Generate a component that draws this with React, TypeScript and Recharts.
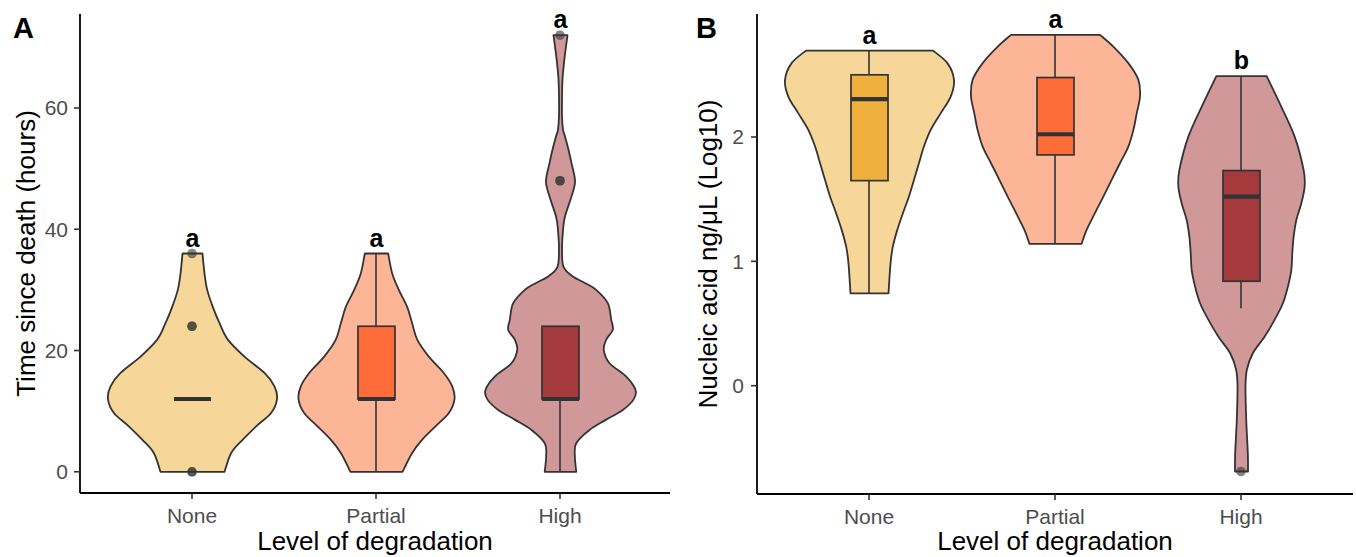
import React from 'react';
import { ComposedChart, Bar, Scatter, XAxis, YAxis, LabelList, Label } from 'recharts';

const FONT = '"Liberation Sans", Arial, sans-serif';

const categories = ['None', 'Partial', 'High'];

const timeTicks = [0, 20, 40, 60];
const acidTicks = [0, 1, 2];

const timeLetters = ['a', 'a', 'a'];
const acidLetters = ['a', 'a', 'b'];

// [lower whisker, q1, median, q3, upper whisker]
const timeBoxStats = [
  [12, 12, 12, 12, 12],
  [0, 12, 12, 24, 36],
  [0, 12, 12, 24, 24],
];
const acidBoxStats = [
  [0.743, 1.649, 2.304, 2.5, 2.695],
  [1.14, 1.856, 2.022, 2.478, 2.821],
  [0.623, 0.84, 1.52, 1.73, 2.49],
];

// violin outlines, top to bottom: [value, relative half width]
const timeNoneViolin = [
  [36, 0.118], [32.7, 0.142], [30, 0.174], [27.2, 0.24], [24.5, 0.32], [21.8, 0.418],
  [19, 0.615], [16.3, 0.852], [14.1, 0.97], [12, 1.0], [9.7, 0.93], [7.5, 0.754],
  [5.3, 0.595], [3.1, 0.458], [0, 0.379],
];
const timePartialViolin = [
  [36, 0.138], [32.7, 0.186], [30, 0.264], [27.2, 0.363], [24.5, 0.422], [21.8, 0.482],
  [19, 0.619], [16.3, 0.796], [14.1, 0.896], [12, 0.923], [9.7, 0.856], [7.5, 0.698],
  [5.3, 0.541], [3.1, 0.422], [0, 0.308],
];
const timeHighViolin = [
  [72, 0.083], [68.5, 0.05], [65, 0.025], [62, 0.018], [58.6, 0.018], [56.4, 0.03],
  [55.3, 0.053], [53.1, 0.095], [50.9, 0.13], [47.9, 0.172], [45.4, 0.13], [42.1, 0.053],
  [39.9, 0.03], [36.6, 0.018], [33.8, 0.036], [32.2, 0.146], [31.1, 0.296], [30, 0.422],
  [27.8, 0.56], [25.05, 0.6], [23.4, 0.619], [21.8, 0.541], [20.1, 0.512], [17.9, 0.58],
  [15.7, 0.778], [13.5, 0.888], [11.9, 0.864], [10.2, 0.737], [8.6, 0.541], [6.9, 0.343],
  [4.7, 0.186], [2.5, 0.17], [0, 0.187],
];

const acidNoneViolin = [
  [2.695, 0.751], [2.594, 0.922], [2.459, 1.0], [2.325, 0.961], [2.19, 0.842], [2.057, 0.724],
  [1.923, 0.644], [1.789, 0.585], [1.655, 0.526], [1.52, 0.466], [1.387, 0.395], [1.253, 0.329],
  [1.118, 0.276], [0.985, 0.249], [0.743, 0.225],
];
const acidPartialViolin = [
  [2.821, 0.526], [2.727, 0.684], [2.594, 0.862], [2.459, 0.981], [2.325, 1.0], [2.19, 0.961],
  [2.057, 0.922], [1.923, 0.862], [1.789, 0.763], [1.655, 0.664], [1.52, 0.566], [1.387, 0.466],
  [1.253, 0.368], [1.14, 0.308],
];
const acidHighViolin = [
  [2.49, 0.297], [2.272, 0.451], [2.003, 0.629], [1.735, 0.735], [1.601, 0.747], [1.467, 0.708],
  [1.333, 0.649], [1.199, 0.617], [1.065, 0.601], [0.931, 0.59], [0.796, 0.549], [0.663, 0.49],
  [0.529, 0.391], [0.394, 0.273], [0.261, 0.134], [0.126, 0.063], [-0.008, 0.047],
  [-0.276, 0.056], [-0.544, 0.075], [-0.69, 0.077],
];

const timePoints = [
  { cat: 'None', value: 0 }, { cat: 'None', value: 0 },
  { cat: 'None', value: 24 }, { cat: 'None', value: 24 },
  { cat: 'None', value: 36 },
  { cat: 'High', value: 48 }, { cat: 'High', value: 48 },
  { cat: 'High', value: 72 },
];
const acidPoints = [{ cat: 'High', value: -0.69 }];

const boxColors = ['#EFB03D', '#FE6C39', '#A43A3C'];
const violinColors = ['#F6D699', '#FDB598', '#D1989A'];

const buildRows = (profiles: number[][][], stats: number[][], letters: string[]) =>
  categories.map((cat, i) => {
    const vals = profiles[i].map((p) => p[0]);
    const [wLo, q1, med, q3, wHi] = stats[i];
    return {
      cat,
      idx: i,
      range: [Math.min(...vals), Math.max(...vals)],
      profile: profiles[i],
      whisker: [wLo, wHi],
      box: [q1, q3],
      median: med,
      letter: letters[i],
    };
  });

const timeRows = buildRows([timeNoneViolin, timePartialViolin, timeHighViolin], timeBoxStats, timeLetters);
const acidRows = buildRows([acidNoneViolin, acidPartialViolin, acidHighViolin], acidBoxStats, acidLetters);

const smooth = (pts: number[][]) => {
  let d = '';
  for (let i = 0; i < pts.length - 1; i++) {
    const p0 = pts[Math.max(i - 1, 0)];
    const p1 = pts[i];
    const p2 = pts[i + 1];
    const p3 = pts[Math.min(i + 2, pts.length - 1)];
    const c1x = p1[0] + (p2[0] - p0[0]) / 6;
    const c1y = p1[1] + (p2[1] - p0[1]) / 6;
    const c2x = p2[0] - (p3[0] - p1[0]) / 6;
    const c2y = p2[1] - (p3[1] - p1[1]) / 6;
    d += ` C${c1x},${c1y} ${c2x},${c2y} ${p2[0]},${p2[1]}`;
  }
  return d;
};

const ViolinShape = (props: any) => {
  const { x, y, width, height, payload } = props;
  const [lo, hi] = payload.range;
  const cx = x + width / 2;
  const half = width / 2;
  const toY = (v: number) => y + (height * (hi - v)) / (hi - lo);
  const right = payload.profile.map(([v, d]: number[]) => [cx + d * half, toY(v)]);
  const left = payload.profile.map(([v, d]: number[]) => [cx - d * half, toY(v)]).reverse();
  const d =
    `M${right[0][0]},${right[0][1]}` + smooth(right) +
    ` L${left[0][0]},${left[0][1]}` + smooth(left) + ' Z';
  return <path d={d} fill={violinColors[payload.idx]} stroke="#333" strokeWidth={1.8} strokeLinejoin="round" />;
};

const WhiskerShape = (props: any) => {
  const { x, y, width, height } = props;
  const cx = x + width / 2;
  return <line x1={cx} x2={cx} y1={y} y2={y + height} stroke="#333" strokeWidth={1.6} />;
};

const BoxShape = (props: any) => {
  const { x, y, width, height, payload } = props;
  const [q1, q3] = payload.box;
  const my = q3 > q1 ? y + (height * (q3 - payload.median)) / (q3 - q1) : y;
  return (
    <g>
      {height > 0 && (
        <rect x={x} y={y} width={width} height={height} fill={boxColors[payload.idx]} stroke="#333" strokeWidth={1.7} />
      )}
      <line x1={x} x2={x + width} y1={my} y2={my} stroke="#333" strokeWidth={4.2} />
    </g>
  );
};

const DotShape = (props: any) => (
  <circle cx={props.cx} cy={props.cy} r={4.8} fill="#333" fillOpacity={0.6} />
);

const LetterLabel = (props: any) => (
  <text x={props.x + props.width / 2} y={props.y - 7} textAnchor="middle" fontSize={25}
    fontWeight="bold" fontFamily={FONT} fill="#000">
    {props.value}
  </text>
);

interface PanelProps {
  rows: any[];
  points: { cat: string; value: number }[];
  ticks: number[];
  domain: [number, number];
  yTitle: string;
  width: number;
  yAxisWidth: number;
  rightMargin: number;
  xAxisHeight: number;
  padding: { left: number; right: number };
  titleX: number;
  tickMargin: number;
}

const Panel = ({ rows, points, ticks, domain, yTitle, width, yAxisWidth, rightMargin, xAxisHeight, padding, titleX, tickMargin }: PanelProps) => {
  const tickStyle = { fill: '#4D4D4D', fontSize: 21, fontFamily: FONT };
  return (
    <ComposedChart width={width} height={557} data={rows} margin={{ top: 14, right: rightMargin, bottom: 0, left: 0 }}>
      <XAxis
        xAxisId="main"
        dataKey="cat"
        type="category"
        allowDuplicatedCategory={false}
        padding={padding}
        height={xAxisHeight}
        tickSize={6}
        tickMargin={9}
        tick={tickStyle}
        axisLine={{ stroke: '#000', strokeWidth: 1.8 }}
        tickLine={{ stroke: '#333', strokeWidth: 1.6 }}
      >
        <Label
          content={(p: any) => (
            <text x={p.viewBox.x + p.viewBox.width / 2} y={p.viewBox.y + p.viewBox.height - 7} textAnchor="middle"
              fontSize={26} fontFamily={FONT} fill="#000">
              Level of degradation
            </text>
          )}
        />
      </XAxis>
      <XAxis xAxisId="whisker" dataKey="cat" type="category" hide height={0} padding={padding} />
      <XAxis xAxisId="box" dataKey="cat" type="category" hide height={0} padding={padding} />
      <YAxis
        type="number"
        domain={domain}
        ticks={ticks}
        allowDataOverflow
        width={yAxisWidth}
        tickSize={6}
        tickMargin={tickMargin}
        tick={tickStyle}
        axisLine={{ stroke: '#000', strokeWidth: 1.8 }}
        tickLine={{ stroke: '#333', strokeWidth: 1.6 }}
      >
        <Label
          content={(p: any) => {
            const cx = p.viewBox.x + titleX;
            const cy = p.viewBox.y + p.viewBox.height / 2;
            return (
              <text x={cx} y={cy} transform={`rotate(-90 ${cx} ${cy})`} textAnchor="middle"
                fontSize={26} fontFamily={FONT} fill="#000">
                {yTitle}
              </text>
            );
          }}
        />
      </YAxis>
      <Bar xAxisId="main" dataKey="range" barSize={169} shape={(p: any) => <ViolinShape {...p} />} isAnimationActive={false}>
        <LabelList dataKey="letter" content={LetterLabel} />
      </Bar>
      <Bar xAxisId="whisker" dataKey="whisker" barSize={4} shape={(p: any) => <WhiskerShape {...p} />} isAnimationActive={false} />
      <Bar xAxisId="box" dataKey="box" barSize={37} shape={(p: any) => <BoxShape {...p} />} isAnimationActive={false} />
      <Scatter xAxisId="main" data={points} dataKey="value" shape={DotShape} isAnimationActive={false} />
    </ComposedChart>
  );
};

export default function App() {
  return (
    <div style={{ position: 'relative', width: 1356, height: 557, background: '#fff' }}>
      <style>{'body{margin:0}'}</style>
      <div style={{ position: 'absolute', left: 0, top: 0 }}>
        <Panel
          rows={timeRows}
          points={timePoints}
          ticks={timeTicks}
          domain={[-3.5, 75.5]}
          yTitle="Time since death (hours)"
          width={680}
          yAxisWidth={80}
          rightMargin={10}
          xAxisHeight={64}
          padding={{ left: 20, right: 18 }}
          titleX={35}
          tickMargin={6}
        />
      </div>
      <div style={{ position: 'absolute', left: 680, top: 0 }}>
        <Panel
          rows={acidRows}
          points={acidPoints}
          ticks={acidTicks}
          domain={[-0.871, 2.989]}
          yTitle="Nucleic acid ng/μL (Log10)"
          width={676}
          yAxisWidth={77}
          rightMargin={3}
          xAxisHeight={63}
          padding={{ left: 19, right: 19 }}
          titleX={37}
          tickMargin={7}
        />
      </div>
      <svg width={1356} height={557} style={{ position: 'absolute', left: 0, top: 0, pointerEvents: 'none' }}>
        <text x={13} y={38} fontSize={29} fontWeight="bold" fontFamily={FONT} fill="#000">A</text>
        <text x={696} y={38} fontSize={29} fontWeight="bold" fontFamily={FONT} fill="#000">B</text>
      </svg>
    </div>
  );
}
